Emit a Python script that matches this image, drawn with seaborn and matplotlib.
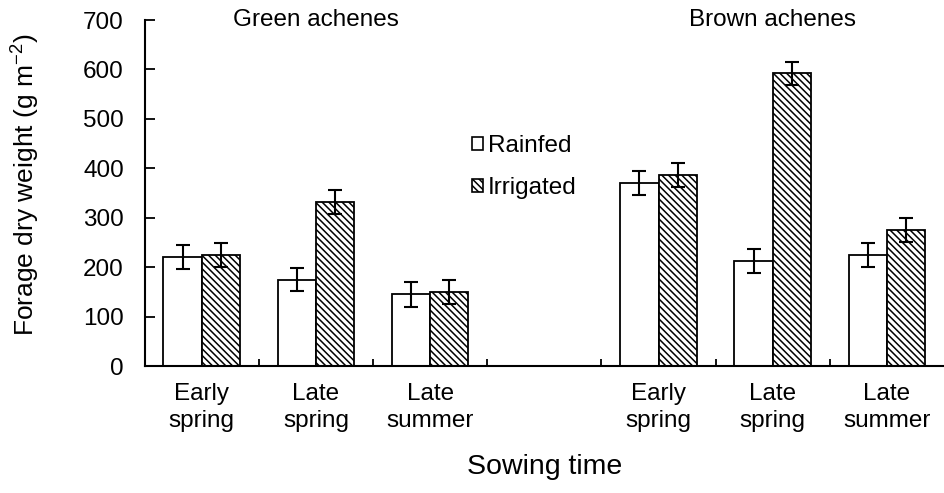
import matplotlib
matplotlib.use("Agg")
import matplotlib.pyplot as plt
import seaborn as sns
import pandas as pd
from matplotlib.patches import Patch
from matplotlib.ticker import FixedLocator

# ---- data ----
categories = ["G-Early spring", "G-Late spring", "G-Late summer", "gap",
              "B-Early spring", "B-Late spring", "B-Late summer"]
tick_labels = ["Early\nspring", "Late\nspring", "Late\nsummer", "",
               "Early\nspring", "Late\nspring", "Late\nsummer"]
bar_categories = ["G-Early spring", "G-Late spring", "G-Late summer",
                  "B-Early spring", "B-Late spring", "B-Late summer"]
rainfed = [220, 175, 145, 370, 212, 225]
irrigated = [225, 332, 150, 386, 592, 275]
rainfed_err = [24, 24, 25, 24, 24, 24]
irrigated_err = [24, 24, 25, 24, 24, 24]
treatments = ["Rainfed", "Irrigated"]
group_titles = ["Green achenes", "Brown achenes"]

df = pd.DataFrame({
    "sowing": bar_categories * 2,
    "treatment": ["Rainfed"] * 6 + ["Irrigated"] * 6,
    "value": rainfed + irrigated,
})

sns.set_style("white")
plt.rcParams["font.family"] = ["Liberation Sans", "DejaVu Sans"]
plt.rcParams["mathtext.fontset"] = "custom"
plt.rcParams["mathtext.rm"] = "Liberation Sans"
plt.rcParams["mathtext.it"] = "Liberation Sans:italic"
plt.rcParams["hatch.linewidth"] = 1.1
plt.rcParams["hatch.color"] = "black"
for k in ["text.color", "axes.labelcolor", "xtick.color", "ytick.color"]:
    plt.rcParams[k] = "black"

FS = 17.5

fig = plt.figure(figsize=(9.45, 4.93), dpi=100)
ax = fig.add_axes([0.153, 0.2576, 0.846, 0.7018])

sns.barplot(data=df, x="sowing", y="value", hue="treatment",
            order=categories, hue_order=treatments,
            palette=["white", "white"], edgecolor="black", linewidth=1.3,
            width=0.67, errorbar=None, legend=False, ax=ax)

hatches = ["", "\\\\\\\\\\"]
errs = [rainfed_err, irrigated_err]
for cont, h, e in zip(ax.containers, hatches, errs):
    xs, ys = [], []
    for bar in cont:
        bar.set_hatch(h)
        bar.set_facecolor("white")
        xs.append(bar.get_x() + bar.get_width() / 2)
        ys.append(bar.get_height())
    ax.errorbar(xs, ys, yerr=e[:len(xs)], fmt="none", ecolor="black",
                elinewidth=1.5, capsize=5, capthick=1.5, zorder=5)

ax.set_ylim(0, 700)
ax.set_xlim(-0.5, 6.5)
ax.set_yticks(range(0, 701, 100))
ax.set_xticks(range(len(categories)))
ax.set_xticklabels(tick_labels, fontsize=FS)
for t in ax.get_xticklabels():
    t.set_linespacing(1.3)
ax.tick_params(axis="x", which="major", length=0, pad=12)
ax.xaxis.set_minor_locator(FixedLocator([0.5, 1.5, 2.5, 3.5, 4.5, 5.5]))
ax.tick_params(axis="x", which="minor", direction="in", length=5, width=1.3,
               bottom=True, color="black")
ax.tick_params(axis="y", direction="in", length=7, width=1.3, labelsize=FS,
               left=True, pad=15, color="black", labelcolor="black")
ax.tick_params(axis="x", labelcolor="black")

for s in ["top", "right"]:
    ax.spines[s].set_visible(False)
for s in ["left", "bottom"]:
    ax.spines[s].set_color("black")
    ax.spines[s].set_linewidth(1.5)

ax.set_xlabel("Sowing time", fontsize=20.5, labelpad=16, color="black")
ax.set_ylabel("Forage dry weight (g m$^{\\mathregular{-2}}$)", fontsize=19,
              color="black")
ax.yaxis.set_label_coords(-0.128, 0.523)

ax.text(1, 700, group_titles[0], ha="center", va="center", fontsize=FS,
        color="black")
ax.text(5, 700, group_titles[1], ha="center", va="center", fontsize=FS,
        color="black")

handles = [Patch(facecolor="white", edgecolor="black", hatch=h, linewidth=1.2)
           for h in hatches]
leg = ax.legend(handles, treatments, loc="upper left",
                bbox_to_anchor=(0.382, 0.73), frameon=False, fontsize=FS,
                handlelength=0.45, handleheight=0.45, handletextpad=0.2,
                labelspacing=0.8)
for t in leg.get_texts():
    t.set_color("black")

fig.savefig("out.png", dpi=100)
